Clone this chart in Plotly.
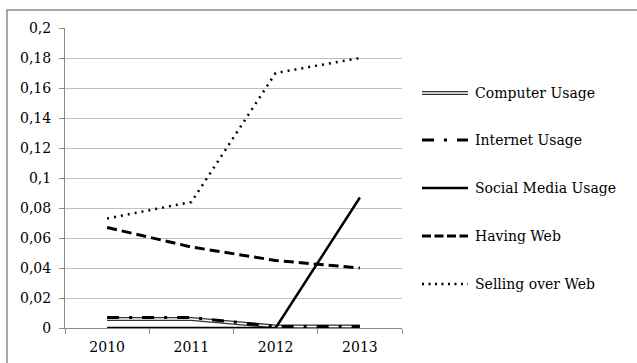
import plotly.graph_objects as go

years = ["2010", "2011", "2012", "2013"]
computer_usage = [0.006, 0.006, 0.001, 0.001]
internet_usage = [0.007, 0.007, 0.001, 0.001]
social_media_usage = [0.0, 0.0, 0.0, 0.087]
having_web = [0.067, 0.054, 0.045, 0.040]
selling_over_web = [0.073, 0.084, 0.170, 0.180]

y_ticks = [0, 0.02, 0.04, 0.06, 0.08, 0.1, 0.12, 0.14, 0.16, 0.18, 0.2]
y_tick_labels = ["0", "0,02", "0,04", "0,06", "0,08", "0,1", "0,12", "0,14", "0,16", "0,18", "0,2"]
series_names = ["Computer Usage", "Internet Usage", "Social Media Usage", "Having Web", "Selling over Web"]

FONT = "DejaVu Serif"
W, H = 637, 363
ML, MR, MT, MB = 65, 235, 28, 35
PW, PH = W - ML - MR, H - MT - MB

fig = go.Figure()
# Computer usage: double line (black outer, white inner)
fig.add_trace(go.Scatter(x=years, y=computer_usage, mode="lines",
                         line=dict(color="#333333", width=4), showlegend=False))
fig.add_trace(go.Scatter(x=years, y=computer_usage, mode="lines",
                         line=dict(color="white", width=1.3), showlegend=False))
fig.add_trace(go.Scatter(x=years, y=internet_usage, mode="lines",
                         line=dict(color="black", width=3, dash="12px,10px,3px,10px"), showlegend=False))
fig.add_trace(go.Scatter(x=years, y=social_media_usage, mode="lines",
                         line=dict(color="black", width=2.5), showlegend=False))
fig.add_trace(go.Scatter(x=years, y=having_web, mode="lines",
                         line=dict(color="black", width=3, dash="10px,5px"), showlegend=False))
fig.add_trace(go.Scatter(x=years, y=selling_over_web, mode="lines",
                         line=dict(color="black", width=2.5, dash="2px,5px"), showlegend=False))

def px_x(p):
    return (p - ML) / PW

def px_y(p):
    return (H - MB - p) / PH

shapes = []
annotations = []
# outer frame
shapes.append(dict(type="rect", xref="paper", yref="paper",
                   x0=px_x(7), x1=px_x(645), y0=px_y(370), y1=px_y(10),
                   line=dict(color="#8c8c8c", width=1.5), fillcolor="rgba(0,0,0,0)", layer="below"))

legend_y = [93, 140, 188, 236, 284]
lx0, lx1, tx = 422, 468, 473
styles = [
    [dict(color="#333333", width=4), dict(color="white", width=1.3)],
    [dict(color="black", width=3, dash="12px,10px,3px,10px")],
    [dict(color="black", width=2.5)],
    [dict(color="black", width=3, dash="9px,3.5px")],
    [dict(color="black", width=2.5, dash="2px,4.5px")],
]
for name, ly, st in zip(series_names, legend_y, styles):
    for s in st:
        shapes.append(dict(type="line", xref="paper", yref="paper",
                           x0=px_x(lx0), x1=px_x(lx1), y0=px_y(ly), y1=px_y(ly), line=s))
    annotations.append(dict(text=name, xref="paper", yref="paper", x=px_x(tx), y=px_y(ly),
                            xanchor="left", yanchor="middle", showarrow=False,
                            font=dict(family=FONT, size=14, color="black")))

fig.update_layout(
    width=W, height=H,
    margin=dict(l=ML, r=MR, t=MT, b=MB),
    paper_bgcolor="white", plot_bgcolor="white",
    showlegend=False,
    shapes=shapes, annotations=annotations,
    font=dict(family=FONT, size=14, color="black"),
    xaxis=dict(type="category", range=[-0.5, 3.5], showgrid=False,
               showline=True, linecolor="#8c8c8c", linewidth=1,
               ticks="outside", ticklen=5, tickcolor="#8c8c8c",
               tickson="boundaries", ticklabelstandoff=6, automargin=False,
               tickfont=dict(family=FONT, size=14)),
    yaxis=dict(range=[0, 0.2], tickvals=y_ticks, ticktext=y_tick_labels,
               showgrid=True, gridcolor="#bfbfbf", gridwidth=1,
               showline=True, linecolor="#8c8c8c", linewidth=1,
               ticks="outside", ticklen=5, tickcolor="#8c8c8c",
               ticklabelstandoff=5, automargin=False,
               zeroline=False, tickfont=dict(family=FONT, size=14)),
)

fig.write_html("out.html")
